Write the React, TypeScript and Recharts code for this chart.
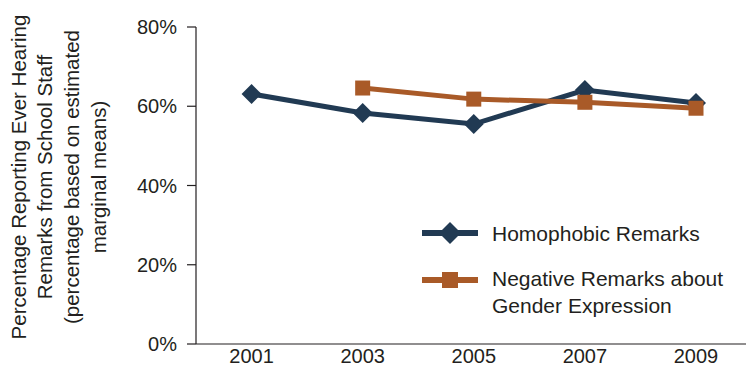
import { LineChart, Line, XAxis, YAxis, Legend } from 'recharts';

const years = [2001, 2003, 2005, 2007, 2009];
const homophobic = [63.1, 58.3, 55.5, 64.1, 60.8];
const genderExpression = [null, 64.6, 61.8, 61.0, 59.5];
const yTicks = [0, 20, 40, 60, 80];
const yLabelLines = [
  'Percentage Reporting Ever Hearing',
  'Remarks from School Staff',
  '(percentage based on estimated',
  'marginal means)',
];

const NAVY = '#213a53';
const ORANGE = '#a95a28';
const INK = '#231f20';
const FONT = '"Liberation Sans", Arial, sans-serif';
const FS = 20;

const data = years.map((y, i) => ({
  year: y,
  homophobic: homophobic[i],
  gender: genderExpression[i],
}));

function Diamond({ cx, cy, r = 10, fill }: any) {
  return <polygon points={`${cx},${cy - r} ${cx + r},${cy} ${cx},${cy + r} ${cx - r},${cy}`} fill={fill} />;
}

function Square({ cx, cy, s = 15, fill }: any) {
  return <rect x={cx - s / 2} y={cy - s / 2} width={s} height={s} fill={fill} />;
}

function renderYLabel() {
  const xs = [18, 44, 71, 98];
  const cy = 177;
  return (
    <g>
      {yLabelLines.map((t, i) => (
        <text
          key={i}
          x={xs[i]}
          y={cy}
          transform={`rotate(-90, ${xs[i]}, ${cy})`}
          textAnchor="middle"
          dominantBaseline="central"
          fontSize={20.5}
          fontFamily={FONT}
          fill={INK}
        >
          {t}
        </text>
      ))}
    </g>
  );
}

function renderLegend() {
  return (
    <svg width={330} height={110} style={{ display: 'block' }}>
      <line x1={2} y1={15} x2={58} y2={15} stroke={NAVY} strokeWidth={6} />
      <Diamond cx={30} cy={15} r={11} fill={NAVY} />
      <text x={72} y={15} dominantBaseline="central" fontSize={21} fontFamily={FONT} fill={INK}>
        Homophobic Remarks
      </text>
      <line x1={2} y1={62} x2={58} y2={62} stroke={ORANGE} strokeWidth={6} />
      <Square cx={30} cy={62} s={16} fill={ORANGE} />
      <text x={72} y={60} dominantBaseline="central" fontSize={21} fontFamily={FONT} fill={INK}>
        Negative Remarks about
      </text>
      <text x={72} y={87} dominantBaseline="central" fontSize={21} fontFamily={FONT} fill={INK}>
        Gender Expression
      </text>
    </svg>
  );
}

export default function App() {
  return (
    <div style={{ position: 'absolute', left: 0, top: 0, background: '#fff' }}>
      <LineChart width={746} height={379} data={data} margin={{ top: 27, right: 0, bottom: 5, left: 0 }}>
        <XAxis
          dataKey="year"
          type="number"
          domain={[2000, 2009.9]}
          ticks={years}
          allowDataOverflow
          height={30}
          tickLine={false}
          tickSize={0}
          tickMargin={5}
          axisLine={{ stroke: INK, strokeWidth: 1.2 }}
          tick={{ fontSize: FS, fontFamily: FONT, fill: INK }}
        />
        <YAxis
          width={196}
          domain={[0, 80]}
          ticks={yTicks}
          tickFormatter={(v) => `${v}%`}
          tickSize={9}
          tickMargin={10}
          axisLine={{ stroke: INK, strokeWidth: 1.2 }}
          tickLine={{ stroke: INK, strokeWidth: 1.2 }}
          tick={{ fontSize: FS, fontFamily: FONT, fill: INK }}
          label={{ content: renderYLabel }}
        />
        <Legend
          layout="horizontal"
          verticalAlign="middle"
          align="center"
          content={renderLegend}
          wrapperStyle={{ position: 'absolute', left: 420, top: 218, width: 330, height: 110 }}
        />
        <Line
          dataKey="homophobic"
          stroke={NAVY}
          strokeWidth={5}
          isAnimationActive={false}
          dot={(p: any) => <Diamond key={`h${p.index}`} cx={p.cx} cy={p.cy} r={10} fill={NAVY} />}
          activeDot={false}
        />
        <Line
          dataKey="gender"
          stroke={ORANGE}
          strokeWidth={5}
          isAnimationActive={false}
          dot={(p: any) =>
            p.cy == null ? <g key={`g${p.index}`} /> : <Square key={`g${p.index}`} cx={p.cx} cy={p.cy} s={15} fill={ORANGE} />
          }
          activeDot={false}
        />
      </LineChart>
    </div>
  );
}
